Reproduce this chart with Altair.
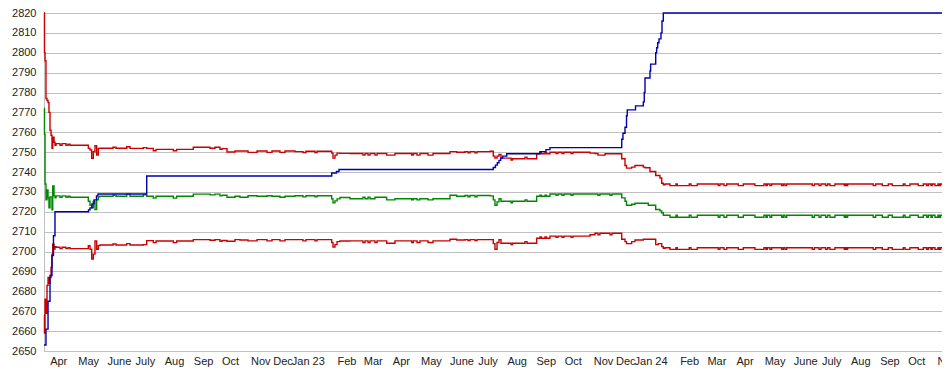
import altair as alt
import pandas as pd

START = "2022-03-26"

# band series (days since START): upper red, middle green, lower red
band_day = [0.0, 0.5, 1.1, 2.1, 3.2, 4.3, 5.3, 6.4, 7.5, 8.5, 9.3, 10.7, 11.7, 12.8, 17.0, 19.2, 23.4, 25.6, 27.7,
            47.2, 49.0, 50.8, 52.5, 54.3, 56.1, 57.8, 59.6, 73.5, 76.7, 88.1, 91.6, 105.8, 109.4, 116.4, 119.3,
            137.7, 141.3, 159.0, 176.8, 182.1, 187.4, 189.6, 194.9, 203.4, 208.7, 217.3, 226.9, 237.5, 242.8,
            251.3, 256.7, 267.3, 275.8, 279.0, 288.6, 290.8, 306.4, 307.8, 309.9, 312.1, 315.2, 325.9, 339.7,
            341.9, 345.1, 347.2, 352.5, 354.7, 365.0, 373.8, 391.6, 393.3, 397.3, 400.4, 409.0, 414.3, 432.4,
            439.5, 448.4, 451.6, 453.7, 459.0, 461.2, 475.0, 478.5, 480.3, 482.5, 484.6, 486.7, 497.4, 499.0,
            512.3, 514.4, 524.7, 528.2, 529.8, 533.6, 535.2, 538.9, 545.3, 547.4, 551.7, 553.8, 561.3, 563.4,
            581.5, 586.8, 590.0, 592.1, 597.5, 602.8, 604.9, 615.3, 618.8, 620.4, 625.9, 629.4, 638.3, 640.1,
            643.6, 645.4, 651.5, 654.2, 656.0, 657.9, 659.6,
            661.4, 666.7, 673.1, 674.5, 687.2, 689.1, 695.8, 718.1, 719.9, 724.2, 727.1, 739.4, 744.8, 757.2,
            766.8, 768.9, 770.3, 773.2, 775.0, 785.7, 787.4, 789.2, 791.0, 818.2, 820.4, 825.4, 827.5, 832.5,
            834.6, 837.1, 842.4, 852.3, 853.8, 854.9, 855.9, 883.2, 885.8, 892.8, 899.2, 903.4, 915.2, 917.0,
            922.3, 931.1, 936.5, 940.1, 941.8, 944.7, 946.0, 948.9, 952.1, 953.6, 954.9, 956.4]

upper = [2820, 2800, 2796, 2777, 2776, 2775, 2770, 2761, 2758.5, 2752, 2757.5, 2755, 2753.5, 2754.3, 2753.5, 2754.3,
         2753.5, 2754.0, 2753.5,
         2751.9, 2751.1, 2746.9, 2750.2, 2753.2, 2748.6, 2751.9, 2752.0, 2752.5, 2752.0, 2752.7, 2751.9, 2752.3,
         2751.9, 2750.7, 2751.4, 2750.7, 2751.4, 2752.5, 2752.0, 2752.5, 2751.4, 2751.8, 2750.1, 2750.6, 2750.6,
         2749.9, 2750.6, 2749.9, 2750.6, 2749.9, 2750.6, 2750.3, 2749.8, 2750.5, 2749.8, 2750.5, 2749.5, 2747.0,
         2748.5, 2749.5, 2749.4, 2749.3, 2748.5, 2749.3, 2748.5, 2749.3, 2748.5, 2749.3, 2748.5, 2749.3, 2748.5,
         2749.3, 2748.5, 2749.3, 2748.5, 2749.3, 2750.3, 2750.0, 2750.3, 2749.7, 2750.3, 2749.7, 2750.3, 2750.5,
         2748.0, 2747.0, 2748.0, 2748.8, 2747.0, 2746.0, 2746.7, 2747.5, 2746.7, 2749.2, 2749.8, 2749.2, 2749.8,
         2749.2, 2750.0, 2749.3, 2750.0, 2749.3, 2750.0, 2749.3, 2750.0, 2749.5, 2749.3, 2748.5, 2748.5, 2749.2,
         2749.2, 2749.2, 2746.7, 2743.3, 2742.0, 2742.5, 2743.3, 2742.5, 2742.2, 2742.2, 2740.3, 2738.3, 2738.3,
         2737.0, 2734.4, 2733.6,
         2734.0, 2733.2, 2734.0, 2733.2, 2734.0, 2733.2, 2734.0, 2733.2, 2734.0, 2733.2, 2734.0, 2733.2, 2734.0,
         2733.2, 2734.0, 2733.2, 2734.0, 2733.2, 2734.0, 2733.2, 2734.0, 2733.2, 2734.0, 2733.2, 2734.0, 2733.2,
         2734.0, 2733.2, 2734.0, 2733.2, 2734.0, 2733.2, 2734.0, 2733.2, 2734.0, 2733.2, 2734.0, 2733.2, 2734.0,
         2733.2, 2734.0, 2733.2, 2734.0, 2733.2, 2734.0, 2733.2, 2734.0, 2733.2, 2734.0, 2733.2, 2734.0, 2733.2,
         2734.0, 2734.0]

mid = [2772, 2759, 2734, 2726, 2731, 2727, 2722, 2727.5, 2727.5, 2721, 2733, 2728, 2727, 2728, 2727.3, 2728,
       2727.3, 2727.8, 2727.3,
       2725.3, 2723.3, 2722.0, 2725.3, 2721.1, 2726.1, 2727.5, 2727.8, 2728.3, 2727.8, 2728.9, 2727.8, 2728.5,
       2727.8, 2726.9, 2727.8, 2726.9, 2727.8, 2728.9, 2728.5, 2728.9, 2728.0, 2728.3, 2727.3, 2727.8, 2727.3,
       2728.1, 2727.8, 2728.1, 2727.8, 2727.3, 2727.8, 2728.1, 2727.5, 2728.1, 2727.5, 2728.1, 2726.5, 2724.5,
       2725.5, 2726.5, 2727.2, 2726.6, 2727.3, 2726.6, 2727.3, 2726.6, 2727.3, 2727.3, 2726.0, 2726.6, 2726.0,
       2726.6, 2726.0, 2726.6, 2726.0, 2726.6, 2728.3, 2727.8, 2728.2, 2727.6, 2728.2, 2727.6, 2728.2, 2728.0,
       2726.0, 2723.3, 2725.0, 2726.6, 2725.3, 2724.5, 2725.3, 2726.0, 2725.3, 2727.8, 2728.3, 2727.8, 2728.3,
       2727.8, 2729.0, 2728.3, 2729.0, 2728.3, 2729.0, 2728.3, 2729.0, 2729.0, 2729.0, 2728.3, 2729.0, 2729.0,
       2728.3, 2729.0, 2727.0, 2725.3, 2723.3, 2723.8, 2724.3, 2724.3, 2724.3, 2723.3, 2723.3, 2721.2, 2721.2,
       2720.5, 2719.5, 2718.3,
       2718.3, 2717.3, 2718.3, 2717.3, 2718.3, 2717.3, 2718.3, 2717.3, 2718.3, 2717.3, 2718.3, 2717.3, 2718.3,
       2717.3, 2718.3, 2717.3, 2718.3, 2717.3, 2718.3, 2717.3, 2718.3, 2717.3, 2718.3, 2717.3, 2718.3, 2717.3,
       2718.3, 2717.3, 2718.3, 2717.3, 2718.3, 2717.3, 2718.3, 2717.3, 2718.3, 2717.3, 2718.3, 2717.3, 2718.3,
       2717.3, 2718.3, 2717.3, 2718.3, 2717.3, 2718.3, 2717.3, 2718.3, 2717.3, 2718.3, 2717.3, 2718.3, 2717.3,
       2718.3, 2718.3]

lower = [2668, 2659, 2676, 2669, 2683, 2687, 2684, 2687, 2692, 2698.5, 2703.7, 2701.3, 2702.5, 2702.2, 2701.5,
         2702.2, 2701.5, 2702.0, 2701.5,
         2702.9, 2701.2, 2696.2, 2698.7, 2705.3, 2701.2, 2703.0, 2703.3, 2703.8, 2703.3, 2704.0, 2703.3, 2703.5,
         2705.5, 2704.5, 2705.3, 2704.5, 2705.3, 2706.0, 2705.7, 2706.0, 2705.2, 2705.6, 2705.2, 2706.0, 2705.8,
         2705.4, 2706.0, 2705.4, 2706.0, 2705.4, 2706.0, 2706.0, 2705.4, 2706.0, 2705.4, 2706.0, 2704.5, 2702.3,
         2703.5, 2705.0, 2705.3, 2705.4, 2704.6, 2705.4, 2704.6, 2705.4, 2704.6, 2705.4, 2704.2, 2705.4, 2704.6,
         2705.4, 2704.6, 2705.4, 2704.6, 2705.4, 2706.2, 2705.8, 2706.0, 2705.5, 2706.0, 2705.5, 2706.0, 2706.0,
         2704.0, 2701.2, 2704.6, 2706.0, 2704.2, 2703.5, 2704.2, 2705.0, 2704.2, 2706.7, 2707.3, 2706.7, 2707.3,
         2706.7, 2707.8, 2707.2, 2707.8, 2707.2, 2707.8, 2707.2, 2707.8, 2708.5, 2709.2, 2708.5, 2709.2, 2709.2,
         2708.5, 2709.2, 2706.2, 2705.0, 2704.0, 2705.0, 2705.8, 2706.2, 2706.2, 2706.2, 2706.2, 2703.5, 2704.0,
         2704.0, 2702.5, 2701.7,
         2701.9, 2701.1, 2701.9, 2701.1, 2701.9, 2701.1, 2701.9, 2701.1, 2701.9, 2701.1, 2701.9, 2701.1, 2701.9,
         2701.1, 2701.9, 2701.1, 2701.9, 2701.1, 2701.9, 2701.1, 2701.9, 2701.1, 2701.9, 2701.1, 2701.9, 2701.1,
         2701.9, 2701.1, 2701.9, 2701.1, 2701.9, 2701.1, 2701.9, 2701.1, 2701.9, 2701.1, 2701.9, 2701.1, 2701.9,
         2701.1, 2701.9, 2701.1, 2701.9, 2701.1, 2701.9, 2701.1, 2701.9, 2701.1, 2701.9, 2701.1, 2701.9, 2701.1,
         2701.9, 2701.9]

# rating line (days since START)
rating_day = [0.0, 2.1, 4.3, 6.4, 8.5, 10.1, 11.7, 47.4, 49.0, 51.1, 53.3, 55.9, 57.5, 109.4, 306.4, 311.5,
              314.2, 478.5, 480.8, 482.8, 484.6, 486.4, 488.5, 492.8, 528.2, 534.6, 538.9, 615.3, 616.6, 618.8,
              620.4, 621.2, 630.0, 638.3, 639.3, 640.1, 645.4, 646.1, 651.5, 652.5, 653.6, 655.0, 657.1, 658.2,
              659.6, 956.4]
rating = [2653, 2661, 2675, 2688, 2698, 2708, 2720, 2721, 2722, 2724, 2726, 2728, 2729, 2738, 2739.5, 2740.3,
          2741.3, 2742.3, 2743.5, 2744.7, 2745.9, 2747, 2748, 2749.2, 2750.3, 2751.3, 2752.3, 2756.5, 2759.5,
          2762.5, 2768.3, 2771.3, 2773.3, 2775.3, 2780, 2787.3, 2790.8, 2794.3, 2800, 2802.5, 2805, 2807, 2810,
          2816, 2820, 2820]

y_ticks = list(range(2650, 2821, 10))
month_names = ["Jan", "Feb", "Mar", "Apr", "May", "June", "July", "Aug", "Sep", "Oct", "Nov", "Dec"]

start = pd.Timestamp(START)
band = pd.DataFrame({"date": start + pd.to_timedelta(band_day, unit="D"),
                     "upper": upper, "mid": mid, "lower": lower})
band_long = band.melt("date", var_name="series", value_name="value")
rat = pd.DataFrame({"date": start + pd.to_timedelta(rating_day, unit="D"), "value": rating})

FONT = "Liberation Sans"
GRID = "#c0c0c0"
names_js = "[" + ",".join("'" + m + "'" for m in month_names) + "]"
label_expr = ("month(datum.value) === 0 ? 'Jan ' + timeFormat(datum.value, '%y') : "
              + names_js + "[month(datum.value)]")

x_enc = alt.X(
    "date:T",
    scale=alt.Scale(domain=[alt.DateTime(year=2022, month=3, date=26),
                            alt.DateTime(year=2024, month=11, date=6, hours=10)]),
    axis=alt.Axis(title=None, grid=False, ticks=False, domain=True, domainColor=GRID,
                  tickCount=alt.TimeIntervalStep(interval="month", step=1),
                  labelExpr=label_expr, labelOverlap=False, labelFlush=False,
                  labelAlign={"condition": {"test": "month(datum.value) === 0", "value": "center"},
                              "value": "left"},
                  labelOffset={"condition": {"test": "month(datum.value) === 11", "value": -6},
                               "value": 0},
                  labelPadding=4, labelFontSize=11, labelFont=FONT, labelColor="#222222"),
)
y_enc = alt.Y(
    "value:Q",
    scale=alt.Scale(domain=[2650, 2820], nice=False, zero=False),
    axis=alt.Axis(title=None, values=y_ticks, format="d", grid=True, gridColor=GRID, gridWidth=1,
                  ticks=False, domain=True, domainColor=GRID, labelPadding=8, labelFontSize=11,
                  labelFont=FONT, labelColor="#222222"),
)

bands = alt.Chart(band_long).mark_line(interpolate="step-after", strokeWidth=1.4).encode(
    x=x_enc, y=y_enc,
    color=alt.Color("series:N", scale=alt.Scale(domain=["upper", "mid", "lower"],
                                                range=["#cc0000", "#008800", "#cc0000"]), legend=None),
)
line = alt.Chart(rat).mark_line(interpolate="step-after", strokeWidth=1.4, color="#0000b0").encode(
    x=x_enc, y=y_enc)

chart = alt.layer(bands, line).properties(
    width=898, height=338,
    autosize=alt.AutoSizeParams(type="none"),
    padding={"left": 36, "top": 5, "right": 0, "bottom": 16},
).configure_view(strokeWidth=0)

chart.save("out.html", embed_options={"renderer": "svg", "actions": False})
